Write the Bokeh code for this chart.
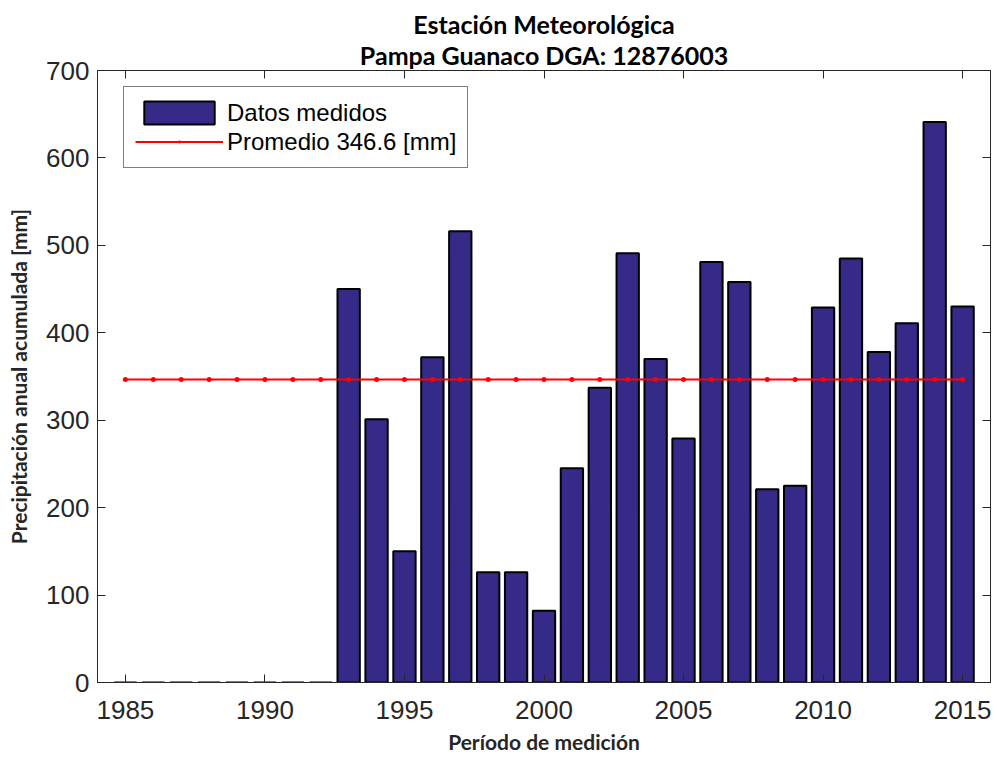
from bokeh.plotting import figure
from bokeh.models import (Range1d, LinearAxis, Title, Legend, LegendItem,
                          FixedTicker, CustomJSTickFormatter, ColumnDataSource)
from bokeh.embed import file_html
from bokeh.resources import INLINE

years = list(range(1985, 2016))
precip = [0, 0, 0, 0, 0, 0, 0, 0,
          450, 301, 150, 372, 516, 126, 126, 82, 245, 337, 491, 370,
          279, 481, 458, 221, 225, 429, 485, 378, 411, 641, 430]
mean_value = 346.6
mean_label = "Promedio 346.6 [mm]"
bar_label = "Datos medidos"
title_line1 = "Estación Meteorológica"
title_line2 = "Pampa Guanaco DGA: 12876003"
x_label = "Período de medición"
y_label = "Precipitación anual acumulada [mm]"
x_ticks = [1985, 1990, 1995, 2000, 2005, 2010, 2015]
y_ticks = [0, 100, 200, 300, 400, 500, 600, 700]

src = ColumnDataSource(dict(x=years, top=precip, mean=[mean_value] * len(years)))

p = figure(width=994, height=756,
           x_range=Range1d(1984, 2016), y_range=Range1d(0, 700),
           output_backend="svg", toolbar_location=None,
           min_border_left=97, min_border_right=4, min_border_top=70,
           min_border_bottom=0, background_fill_color="white",
           border_fill_color="white")
p.grid.visible = False
p.outline_line_color = "#262626"
p.outline_line_width = 1

bars = p.vbar(x="x", top="top", width=0.8, source=src, fill_color="#352A87",
              line_color="black", line_width=2)
ln = p.line(x="x", y="mean", source=src, line_color="#FF0000", line_width=2)
dots = p.scatter(x="x", y="mean", source=src, marker="dot", size=20,
                 fill_color="#FF0000", line_color="#FF0000")

tick_color = "#262626"
for ax in (p.xaxis[0], p.yaxis[0]):
    ax.major_tick_in = 8
    ax.major_tick_out = 0
    ax.minor_tick_line_color = None
    ax.axis_line_color = tick_color
    ax.major_tick_line_color = tick_color
    ax.major_label_text_font = "Liberation Sans"
    ax.major_label_text_font_size = "26px"
    ax.major_label_text_color = tick_color
    ax.axis_label_text_font = "Lato"
    ax.axis_label_text_font_style = "bold"
    ax.axis_label_text_font_size = "21px"
    ax.axis_label_text_color = tick_color
p.xaxis[0].ticker = FixedTicker(ticks=x_ticks)
p.yaxis[0].ticker = FixedTicker(ticks=y_ticks)
p.xaxis[0].axis_label = x_label
p.yaxis[0].axis_label = y_label
p.xaxis[0].major_label_standoff = 18
p.yaxis[0].major_label_standoff = 8
p.xaxis[0].axis_label_standoff = 7
p.yaxis[0].axis_label_standoff = 12

empty = CustomJSTickFormatter(code="return ''")
top_ax = LinearAxis(ticker=FixedTicker(ticks=x_ticks), formatter=empty,
                    major_tick_in=8, major_tick_out=0,
                    minor_tick_line_color=None, axis_line_color=tick_color,
                    major_tick_line_color=tick_color,
                    major_label_text_font_size="1px", major_label_standoff=0)
right_ax = LinearAxis(ticker=FixedTicker(ticks=y_ticks), formatter=empty,
                      major_tick_in=8, major_tick_out=0,
                      minor_tick_line_color=None, axis_line_color=tick_color,
                      major_tick_line_color=tick_color,
                      major_label_text_font_size="1px", major_label_standoff=0)
p.add_layout(top_ax, "above")
p.add_layout(right_ax, "right")

t2 = Title(text=title_line2, align="center", text_font="Lato",
           text_font_style="bold", text_font_size="25px", text_color="black",
           standoff=2)
t1 = Title(text=title_line1, align="center", text_font="Lato",
           text_font_style="bold", text_font_size="25px", text_color="black",
           standoff=-5)
p.add_layout(t2, "above")
p.add_layout(t1, "above")

legend = Legend(items=[LegendItem(label=bar_label, renderers=[bars]),
                       LegendItem(label=mean_label, renderers=[ln, dots])],
                location=(26, 615 - 22 - 79), margin=0, padding=11, spacing=0,
                glyph_width=88, glyph_height=29, label_standoff=4,
                label_text_font="Liberation Sans", label_text_font_size="24px",
                label_text_color="black", border_line_color="black",
                border_line_width=1.5, background_fill_alpha=1)
p.add_layout(legend, "center")

open("out.html", "w").write(file_html(p, INLINE))
